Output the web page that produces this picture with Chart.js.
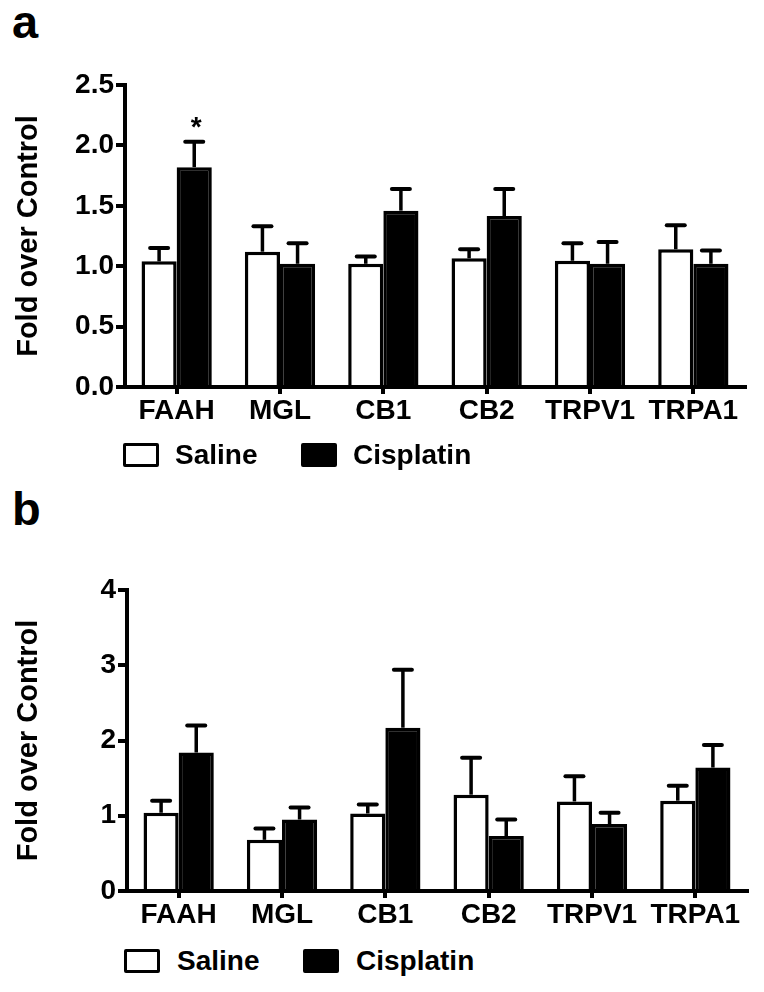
<!DOCTYPE html>
<html>
<head>
<meta charset="utf-8">
<script src="https://cdn.jsdelivr.net/npm/chart.js@4"></script>
<style>
  body { margin: 0; background: #fff; }
  #page { position: relative; width: 764px; height: 992px; font-family: 'Liberation Sans', Arial, sans-serif; }
  canvas { position: absolute; left: 0; }
  .panel { position: absolute; font-weight: bold; font-size: 47px; line-height: 46px; }
  .legend { position: absolute; height: 24px; }
  .box { position: absolute; box-sizing: border-box; width: 36px; height: 24px; border: 3.5px solid #000; border-radius: 2px; }
  .lbl { position: absolute; font-weight: bold; font-size: 28px; line-height: 24px; top: 0; }
</style>
</head>
<body>
<div id="page">
  <div class="panel" style="left:12px; top:-1px;">a</div>
  <canvas id="chartA" width="764" height="440" style="top:0;"></canvas>
  <div class="legend" style="top:443px; left:0; width:764px;">
    <div class="box" style="left:123px; background:#fff;"></div>
    <div class="lbl" style="left:175px;">Saline</div>
    <div class="box" style="left:301px; background:#000;"></div>
    <div class="lbl" style="left:353px;">Cisplatin</div>
  </div>

  <div class="panel" style="left:12px; top:486px;">b</div>
  <canvas id="chartB" width="764" height="450" style="top:490px;"></canvas>
  <div class="legend" style="top:949px; left:0; width:764px;">
    <div class="box" style="left:124px; background:#fff;"></div>
    <div class="lbl" style="left:177px;">Saline</div>
    <div class="box" style="left:303px; background:#000;"></div>
    <div class="lbl" style="left:356px;">Cisplatin</div>
  </div>
</div>

<script>
'use strict';

// data

const genes = ['FAAH', 'MGL', 'CB1', 'CB2', 'TRPV1', 'TRPA1'];

// panel a
const salineA = [1.04, 1.12, 1.02, 1.065, 1.045, 1.14];
const salineErrA = [0.11, 0.21, 0.06, 0.075, 0.145, 0.20];
const cisplatinA = [1.82, 1.02, 1.46, 1.415, 1.02, 1.02];
const cisplatinErrA = [0.21, 0.17, 0.18, 0.225, 0.18, 0.11];
const starsA = ['*', '', '', '', '', ''];
const ticksA = [0, 0.5, 1.0, 1.5, 2.0, 2.5];

// panel b
const salineB = [1.04, 0.68, 1.03, 1.28, 1.19, 1.20];
const salineErrB = [0.16, 0.15, 0.12, 0.49, 0.335, 0.20];
const cisplatinB = [1.84, 0.95, 2.17, 0.73, 0.89, 1.64];
const cisplatinErrB = [0.36, 0.16, 0.77, 0.22, 0.15, 0.30];
const starsB = ['', '', '', '', '', ''];
const ticksB = [0, 1, 2, 3, 4];

const FONT = "'Liberation Sans', Arial, sans-serif";

// draws the upward SEM bars and the significance stars
const errorBarPlugin = {
  id: 'errorBars',
  afterDatasetsDraw(chart) {
    const ctx = chart.ctx;
    const yScale = chart.scales.y;
    ctx.save();
    ctx.strokeStyle = '#000';
    ctx.fillStyle = '#000';
    chart.data.datasets.forEach((ds, di) => {
      const meta = chart.getDatasetMeta(di);
      meta.data.forEach((bar, i) => {
        const top = yScale.getPixelForValue(ds.data[i] + ds.errors[i]);
        ctx.lineCap = 'butt';
        ctx.lineWidth = 3.5;
        ctx.beginPath();
        ctx.moveTo(bar.x, bar.y);
        ctx.lineTo(bar.x, top);
        ctx.stroke();
        ctx.lineCap = 'round';
        ctx.lineWidth = 4;
        ctx.beginPath();
        ctx.moveTo(bar.x - 9, top);
        ctx.lineTo(bar.x + 9, top);
        ctx.stroke();
        if (ds.stars && ds.stars[i]) {
          ctx.font = 'bold 28px ' + FONT;
          ctx.textAlign = 'center';
          ctx.textBaseline = 'middle';
          ctx.fillText(ds.stars[i], bar.x + 2, top - 13);
        }
      });
    });
    ctx.restore();
  }
};

function makeChart(canvasId, saline, salineErr, cisplatin, cisplatinErr, stars, tickValues, axisX, areaTop, areaBottom, rightPad) {
  const canvas = document.getElementById(canvasId);
  const H = canvas.height;
  const yMax = tickValues[tickValues.length - 1];
  const step = tickValues[1] - tickValues[0];
  const decimals = step < 1 ? 1 : 0;

  const config = {
    type: 'bar',
    data: {
      labels: genes,
      datasets: [
        {
          label: 'Saline',
          data: saline,
          errors: salineErr,
          backgroundColor: '#fff',
          borderColor: '#000',
          borderWidth: 3.5,
          barPercentage: 1.0,
          categoryPercentage: 0.68
        },
        {
          label: 'Cisplatin',
          data: cisplatin,
          errors: cisplatinErr,
          stars: stars,
          backgroundColor: '#000',
          borderColor: '#000',
          borderWidth: 3.5,
          barPercentage: 1.0,
          categoryPercentage: 0.68
        }
      ]
    },
    options: {
      responsive: false,
      animation: false,
      layout: { padding: { top: areaTop, right: rightPad, left: 0, bottom: 0 } },
      plugins: {
        legend: { display: false },
        tooltip: { enabled: false }
      },
      scales: {
        x: {
          offset: true,
          grid: {
            offset: false,
            drawOnChartArea: false,
            drawTicks: true,
            tickLength: 7,
            lineWidth: 4,
            color: '#000'
          },
          border: { display: true, width: 4, color: '#000' },
          ticks: {
            color: '#000',
            padding: 0,
            font: { family: FONT, size: 28, weight: 'bold' }
          },
          afterFit(scale) { scale.height = H - areaBottom; }
        },
        y: {
          min: 0,
          max: yMax,
          grid: {
            drawOnChartArea: false,
            drawTicks: true,
            tickLength: 9,
            lineWidth: 4,
            color: '#000'
          },
          border: { display: true, width: 4, color: '#000' },
          ticks: {
            stepSize: step,
            color: '#000',
            padding: 2,
            font: { family: FONT, size: 28, weight: 'bold' },
            callback: (v) => Number(v).toFixed(decimals)
          },
          title: {
            display: true,
            text: 'Fold over Control',
            color: '#000',
            padding: { top: 12, bottom: 0 },
            font: { family: FONT, size: 29, weight: 'bold' }
          },
          afterFit(scale) { scale.width = axisX; }
        }
      }
    },
    plugins: [errorBarPlugin]
  };

  return new Chart(canvas, config);
}

makeChart('chartA', salineA, salineErrA, cisplatinA, cisplatinErrA, starsA, ticksA, 125, 85, 387, 19);
makeChart('chartB', salineB, salineErrB, cisplatinB, cisplatinErrB, starsB, ticksB, 127, 100, 401, 17);
</script>
</body>
</html>
